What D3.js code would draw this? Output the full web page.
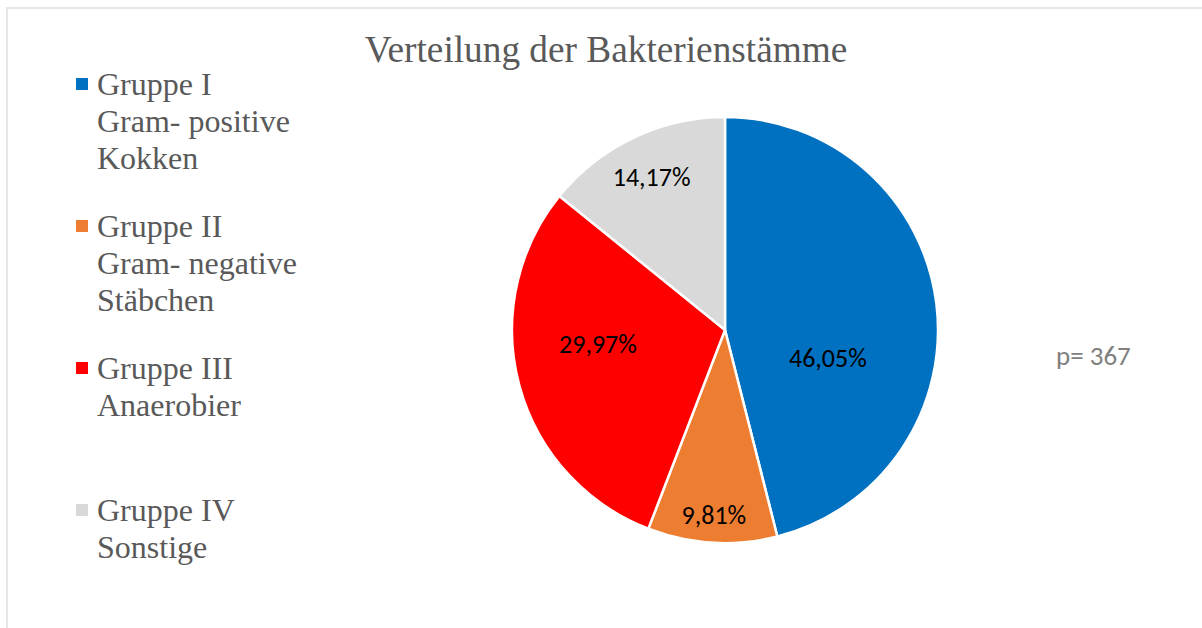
<!DOCTYPE html>
<html>
<head>
<meta charset="utf-8">
<script src="https://cdn.jsdelivr.net/npm/d3@7"></script>
<style>
  html, body { margin: 0; padding: 0; background: #fff; }
  svg { display: block; }
</style>
</head>
<body>
<svg id="chart" width="1202" height="628"></svg>
<script>
// ---- data ----
const title = "Verteilung der Bakterienstämme";
const categories = ["Gruppe I", "Gruppe II", "Gruppe III", "Gruppe IV"];
const legendLines = [
  ["Gruppe I", "Gram- positive", "Kokken"],
  ["Gruppe II", "Gram- negative", "Stäbchen"],
  ["Gruppe III", "Anaerobier"],
  ["Gruppe IV", "Sonstige"]
];
const values = [46.05, 9.81, 29.97, 14.17];
const labels = ["46,05%", "9,81%", "29,97%", "14,17%"];
const colors = ["#0070C0", "#ED7D31", "#FF0000", "#D9D9D9"];
const note = "p= 367";

// ---- layout ----
const svg = d3.select("#chart");
const W = 1202, H = 628;
const cx = 725, cy = 330, R = 213;

// chart border
svg.append("rect")
  .attr("x", 7).attr("y", 8)
  .attr("width", W + 10).attr("height", H + 10)
  .attr("fill", "none")
  .attr("stroke", "#e6e6e6")
  .attr("stroke-width", 2);

// title
svg.append("text")
  .attr("x", 606).attr("y", 62)
  .attr("text-anchor", "middle")
  .attr("font-family", "'Liberation Serif', 'Times New Roman', serif")
  .attr("font-size", 37.3)
  .attr("fill", "#595959")
  .text(title);

// pie
const pie = d3.pie().sort(null).value(d => d)(values);
const arc = d3.arc().innerRadius(0).outerRadius(R);
const g = svg.append("g").attr("transform", `translate(${cx},${cy})`);

g.selectAll("path.slice")
  .data(pie)
  .enter().append("path")
  .attr("class", "slice")
  .attr("d", arc)
  .attr("fill", (d, i) => colors[i])
  .attr("stroke", "#fff")
  .attr("stroke-width", 2.5)
  .attr("stroke-linejoin", "miter");

// label placement inside slices (fraction of slice angle, fraction of radius)
const angleFrac = [0.633, 0.5, 0.58, 0.5];
const radFrac = [0.50, 0.87, 0.60, 0.80];
g.selectAll("text.lbl")
  .data(pie)
  .enter().append("text")
  .attr("class", "lbl")
  .attr("transform", (d, i) => {
    const a = d.startAngle + (d.endAngle - d.startAngle) * angleFrac[i];
    const r = R * radFrac[i];
    return `translate(${r * Math.sin(a)},${-r * Math.cos(a)})`;
  })
  .attr("text-anchor", "middle")
  .attr("dy", "0.36em")
  .attr("font-family", "Carlito, Lato, 'Open Sans', sans-serif")
  .attr("font-size", 26)
  .attr("fill", "#000")
  .text((d, i) => labels[i]);

// legend
const legTop = 95, legStep = 142, lineH = 37;
const leg = svg.append("g");
legendLines.forEach((lines, i) => {
  const y0 = legTop + i * legStep;
  leg.append("rect")
    .attr("x", 76).attr("y", y0 - 17)
    .attr("width", 12).attr("height", 12)
    .attr("fill", colors[i]);
  const t = leg.append("text")
    .attr("font-family", "'Liberation Serif', 'Times New Roman', serif")
    .attr("font-size", 32)
    .attr("fill", "#595959");
  lines.forEach((ln, j) => {
    t.append("tspan").attr("x", 97).attr("y", y0 + j * lineH).text(ln);
  });
});

// note
svg.append("text")
  .attr("x", 1056).attr("y", 365)
  .attr("font-family", "Carlito, Lato, 'Open Sans', sans-serif")
  .attr("font-size", 27)
  .attr("fill", "#808080")
  .text(note);
</script>
</body>
</html>
